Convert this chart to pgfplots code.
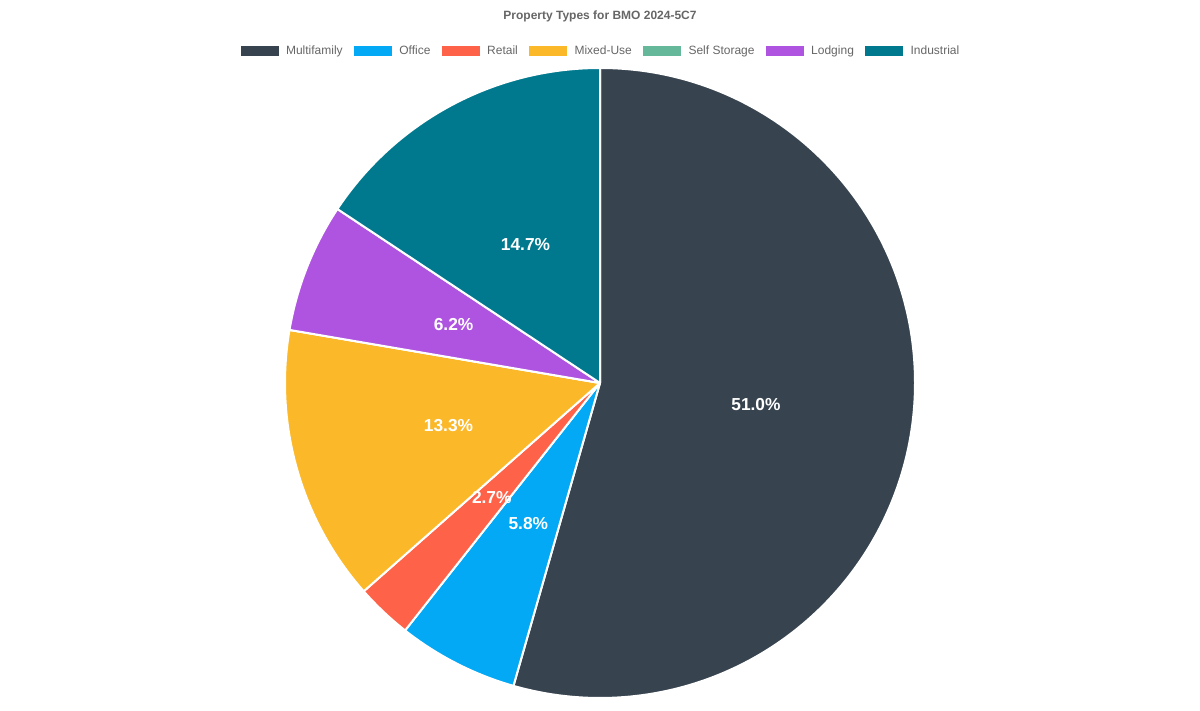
\documentclass[border=0pt]{standalone}
\usepackage{fontspec}
\setmainfont{Liberation Sans}
\usepackage{pgfplots}
\pgfplotsset{compat=1.18}
\usepackage{pgfplotstable}
\usetikzlibrary{calc}

\definecolor{cMulti}{HTML}{37444F}
\definecolor{cOffice}{HTML}{03A9F4}
\definecolor{cRetail}{HTML}{FE634A}
\definecolor{cMixed}{HTML}{FBB829}
\definecolor{cStorage}{HTML}{65B99A}
\definecolor{cLodging}{HTML}{AF54E0}
\definecolor{cIndustrial}{HTML}{00798F}
\definecolor{textgray}{HTML}{666666}

% share of each property type (Self Storage has no visible slice)
\pgfplotstableread[col sep=comma]{
name,value,color
Multifamily,51.0,cMulti
Office,5.8,cOffice
Retail,2.7,cRetail
Mixed-Use,13.3,cMixed
Self Storage,0,cStorage
Lodging,6.2,cLodging
Industrial,14.7,cIndustrial
}\piedata

% slice angles, clockwise from the top
\def\pietotal{0}
\foreach \i in {0,...,6}{%
  \pgfplotstablegetelem{\i}{value}\of\piedata
  \pgfmathsetmacro\t{\pietotal+\pgfplotsretval}%
  \xdef\pietotal{\t}%
}
\def\cum{0}
\foreach \i in {0,...,6}{%
  \pgfplotstablegetelem{\i}{value}\of\piedata
  \let\v\pgfplotsretval
  \pgfmathsetmacro\s{90-360*(\cum/\pietotal)}%
  \pgfmathsetmacro\e{\s-360*(\v/\pietotal)}%
  \expandafter\xdef\csname pieS\i\endcsname{\s}%
  \expandafter\xdef\csname pieE\i\endcsname{\e}%
  \pgfmathparse{\v>0}%
  \ifdim\pgfmathresult pt>0.5pt
    \pgfmathprintnumberto[fixed,fixed zerofill,precision=1,assume math mode=true]{\v}{\lab}%
    \expandafter\xdef\csname pieL\i\endcsname{\lab\%}%
  \else
    \expandafter\xdef\csname pieL\i\endcsname{}%
  \fi
  \pgfplotstablegetelem{\i}{color}\of\piedata
  \expandafter\xdef\csname pieC\i\endcsname{\pgfplotsretval}%
  \pgfmathsetmacro\c{\cum+\v}%
  \xdef\cum{\c}%
}

\begin{document}
\begin{tikzpicture}
\begin{axis}[
    at={(0,0)}, anchor=south west,
    scale only axis,
    width=900pt, height=525pt,
    xmin=0, xmax=1200, ymin=0, ymax=700,
    hide axis,
    clip=false,
    legend image code/.code={\fill[#1, draw=none] (0pt,-3.75pt) rectangle (28.5pt,3.75pt);},
    legend columns=-1,
    legend style={
        at={(axis cs:600,649)}, anchor=center,
        draw=none, fill=none,
        font=\fontsize{9pt}{11pt}\selectfont,
        text=textgray,
        nodes={inner sep=0pt},
        /tikz/every odd column/.style={column sep=5.5pt},
        /tikz/every even column/.style={column sep=8.5pt},
    },
]
\path (axis cs:0,0) rectangle (axis cs:1200,700);

\pgfplotsinvokeforeach{0,...,6}{
  \edef\temp{\noexpand\filldraw[fill=\csname pieC#1\endcsname, draw=white,
      line width=1.5pt, line join=round]
    (axis cs:600,317) -- ++(\csname pieS#1\endcsname:236.25pt)
    arc[start angle=\csname pieS#1\endcsname, end angle=\csname pieE#1\endcsname,
        radius=236.25pt] -- cycle;}
  \temp
}
\pgfplotsinvokeforeach{0,...,6}{
  \edef\temp{\noexpand\node[text=white, font=\noexpand\fontsize{13pt}{15pt}\noexpand\selectfont\noexpand\bfseries]
    at ($(axis cs:600,317)+({(\csname pieS#1\endcsname+\csname pieE#1\endcsname)/2}:118.1pt)$)
    {\csname pieL#1\endcsname};}
  \temp
}

\node[font=\fontsize{9pt}{11pt}\selectfont\bfseries, text=textgray]
  at (axis cs:600,684) {Property Types for BMO 2024-5C7};

\addlegendimage{fill=cMulti}\addlegendentry{Multifamily}
\addlegendimage{fill=cOffice}\addlegendentry{Office}
\addlegendimage{fill=cRetail}\addlegendentry{Retail}
\addlegendimage{fill=cMixed}\addlegendentry{Mixed-Use}
\addlegendimage{fill=cStorage}\addlegendentry{Self Storage}
\addlegendimage{fill=cLodging}\addlegendentry{Lodging}
\addlegendimage{fill=cIndustrial}\addlegendentry{Industrial}
\end{axis}
\end{tikzpicture}
\end{document}
